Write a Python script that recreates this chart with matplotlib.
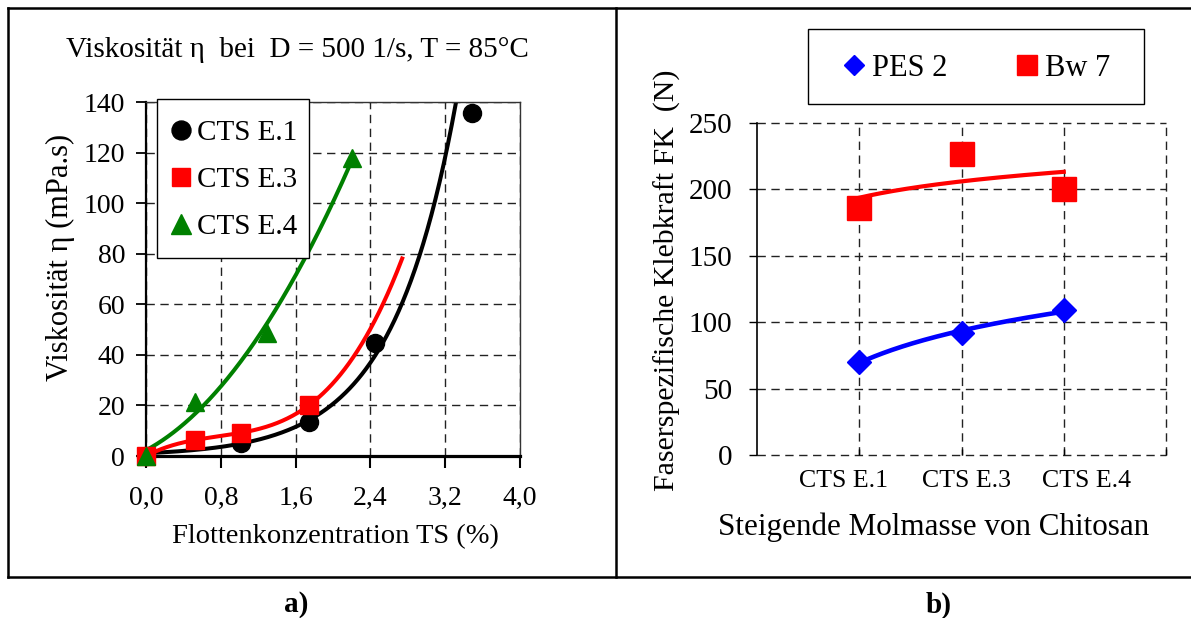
import numpy as np
import matplotlib
matplotlib.use("Agg")
import matplotlib.pyplot as plt
from matplotlib.patches import Rectangle
from matplotlib.lines import Line2D

plt.rcParams['font.family'] = ['Liberation Serif', 'DejaVu Serif']

# ---------------- Panel a data ----------------
e1_x = [0.0, 1.02, 1.74, 2.45, 3.49]
e1_y = [0.0, 5.0, 13.5, 44.5, 135.5]
e3_x = [0.0, 0.52, 1.02, 1.74]
e3_y = [0.0, 6.3, 9.2, 20.0]
e4_x = [0.0, 0.52, 1.29, 2.2]
e4_y = [0.0, 21.5, 48.5, 117.7]
# values read along the exponential trend line of CTS E.1
e1_trend_x = [1.0, 1.61, 2.07, 2.43, 2.79, 2.97, 3.06, 3.2, 3.32]
e1_trend_y = [4.6, 12.3, 23.5, 39.0, 62.0, 81.0, 100.0, 120.0, 140.0]
a_labels = ['CTS E.1', 'CTS E.3', 'CTS E.4']
a_xticks = [0.0, 0.8, 1.6, 2.4, 3.2, 4.0]
a_xticklabels = ['0,0', '0,8', '1,6', '2,4', '3,2', '4,0']
a_yticks = [0, 20, 40, 60, 80, 100, 120, 140]

# ---------------- Panel b data ----------------
categories = ['CTS E.1', 'CTS E.3', 'CTS E.4']
pes2 = [70.0, 92.0, 109.0]
bw7 = [186.0, 227.0, 200.0]
b_labels = ['PES 2', 'Bw 7']
b_yticks = [0, 50, 100, 150, 200, 250]

W, H = 1191, 618
fig = plt.figure(figsize=(W / 100, H / 100), dpi=100)


def fx(px):
    return px / W


def fy(py):
    return 1 - py / H


GRID_C = '#222222'
DASH = (0, (6, 4))

# ================= Panel a =================
axA = fig.add_axes([fx(146), fy(456), (520 - 146) / W, (456 - 102) / H])
axA.set_xlim(0, 4)
axA.set_ylim(0, 140)
axA.grid(True, color=GRID_C, lw=1.0, ls=DASH, zorder=0)
axA.set_axisbelow(True)

# trend lines
xs = np.linspace(0, max(e1_x), 400)
b1, la1 = np.polyfit(e1_trend_x, np.log(e1_trend_y), 1)
axA.plot(xs, np.exp(la1) * np.exp(b1 * xs), color='black', lw=2.9, zorder=2)

p3 = np.polyfit(e3_x, e3_y, 3)
xs3 = np.linspace(0, max(e3_x) + 1.0, 300)
axA.plot(xs3, np.polyval(p3, xs3), color='#ff0000', lw=2.9, zorder=2)

p4 = np.polyfit(e4_x, e4_y, 2)
xs4 = np.linspace(0, max(e4_x), 300)
axA.plot(xs4, np.polyval(p4, xs4), color='#008000', lw=2.9, zorder=2)

# markers
hA1, = axA.plot(e1_x, e1_y, ls='none', marker='o', ms=13, color='black', clip_on=False, zorder=3)
hA3, = axA.plot(e3_x, e3_y, ls='none', marker='s', ms=12.5, color='#ff0000', clip_on=False, zorder=4)
hA4, = axA.plot(e4_x, e4_y, ls='none', marker='^', ms=13.5, color='#008000', clip_on=False, zorder=5)

axA.set_xticks(a_xticks)
axA.set_xticklabels(a_xticklabels)
axA.set_yticks(a_yticks)
axA.tick_params(axis='x', direction='out', length=8.5, width=1.5, pad=13, labelsize=20)
axA.tick_params(axis='y', direction='out', length=7, width=1.3, pad=8, labelsize=20)
for s in ['top', 'right']:
    axA.spines[s].set_linewidth(1.0)
    axA.spines[s].set_color('#333333')
axA.spines['left'].set_linewidth(1.6)
axA.spines['bottom'].set_linewidth(2.3)

axA.set_xlabel('Flottenkonzentration TS (%)', fontsize=20.5)
axA.xaxis.set_label_coords((335 - 146) / 374, (456 - 537) / 354)
axA.xaxis.label.set_va('center')
axA.set_ylabel('Viskosität η (mPa.s)', fontsize=22)
axA.yaxis.set_label_coords((60 - 146) / 374, (456 - 257) / 354)
axA.yaxis.label.set_va('center')

fig.text(fx(297), fy(50), 'Viskosität η  bei  D = 500 1/s, T = 85°C',
         fontsize=21, ha='center', va='center')

# legend a
fig.add_artist(Rectangle((fx(157), fy(258)), (309 - 157) / W, (258 - 99) / H,
                         transform=fig.transFigure, facecolor='white',
                         edgecolor='black', lw=1.0, zorder=3))
fig.legend([hA1, hA3, hA4], a_labels, loc='center left',
           bbox_to_anchor=(fx(168), fy(180)), frameon=False, fontsize=21,
           handlelength=0.9, handletextpad=0.1, labelspacing=0.7,
           borderpad=0, borderaxespad=0, markerscale=1.05)

# ================= Panel b =================
axB = fig.add_axes([fx(757), fy(455), (1166 - 757) / W, (455 - 123) / H])
axB.set_xlim(0, 4)
axB.set_ylim(0, 250)
pos = np.arange(1, len(categories) + 1)

# dashed grid (drawn unclipped so the edge lines show fully)
for gy in b_yticks:
    axB.axhline(gy, color=GRID_C, lw=1.0, ls=DASH, zorder=0, clip_on=False)
for gx in range(1, len(categories) + 2):
    axB.axvline(gx, color=GRID_C, lw=1.0, ls=DASH, zorder=0, clip_on=False)

xl = np.linspace(1, len(categories), 200)
kb, cb = np.polyfit(np.log(pos), pes2, 1)
axB.plot(xl, kb * np.log(xl) + cb, color='#0000ff', lw=3.3, zorder=2)
kr, cr = np.polyfit(np.log(pos), bw7, 1)
axB.plot(xl, kr * np.log(xl) + cr, color='#ff0000', lw=3.0, zorder=2)

axB.plot(pos, pes2, ls='none', marker='D', ms=12, color='#0000ff', zorder=3)
axB.plot(pos, bw7, ls='none', marker='s', ms=17, color='#ff0000', zorder=3)

for s in ['top', 'right', 'bottom']:
    axB.spines[s].set_visible(False)
axB.spines['left'].set_linewidth(1.2)

axB.set_yticks(b_yticks)
axB.tick_params(axis='y', direction='out', length=6, width=1, pad=12, labelsize=21)
axB.set_xticks([0.844, 2.049, 3.22])
axB.set_xticklabels(categories)
axB.tick_params(axis='x', which='major', length=0, pad=11, labelsize=18.6)
axB.set_xticks(list(range(1, len(categories) + 2)), minor=True)
axB.tick_params(axis='x', which='minor', direction='in', length=4.3, width=1)

axB.set_xlabel('Steigende Molmasse von Chitosan', fontsize=22.4)
axB.xaxis.set_label_coords((934 - 757) / 409, (455 - 527) / 332)
axB.xaxis.label.set_va('center')
axB.set_ylabel('Faserspezifische Klebkraft FK  (N)', fontsize=21.5)
axB.yaxis.set_label_coords((667 - 757) / 409, (455 - 280) / 332)
axB.yaxis.label.set_va('center')

# legend b
fig.add_artist(Rectangle((fx(808), fy(104)), (1144 - 808) / W, (104 - 29) / H,
                         transform=fig.transFigure, facecolor='white',
                         edgecolor='black', lw=1.0, zorder=3))
hB1 = Line2D([], [], ls='none', marker='D', ms=10, color='#0000ff')
hB2 = Line2D([], [], ls='none', marker='s', ms=15, color='#ff0000')
fig.legend([hB1, hB2], b_labels, loc='center left', ncol=2,
           bbox_to_anchor=(fx(840), fy(68)), frameon=False, fontsize=22,
           handlelength=0.9, handletextpad=0.15, columnspacing=2.15,
           borderpad=0, borderaxespad=0)

# ================= frame & captions =================
frame_kw = dict(color='black', lw=1.8, transform=fig.transFigure)
fig.add_artist(Line2D([fx(8), fx(8)], [fy(8), fy(577)], **frame_kw))
fig.add_artist(Line2D([fx(8), 1.0], [fy(8), fy(8)], **frame_kw))
fig.add_artist(Line2D([fx(8), 1.0], [fy(577), fy(577)], **frame_kw))
fig.add_artist(Line2D([fx(616), fx(616)], [fy(8), fy(577)], **frame_kw))

fig.text(fx(296), fy(605), 'a)', fontsize=21, fontweight='bold', ha='center', va='center')
fig.text(fx(939), fy(605), 'b)', fontsize=21, fontweight='bold', ha='center', va='center')

fig.savefig('out.png', dpi=100)
